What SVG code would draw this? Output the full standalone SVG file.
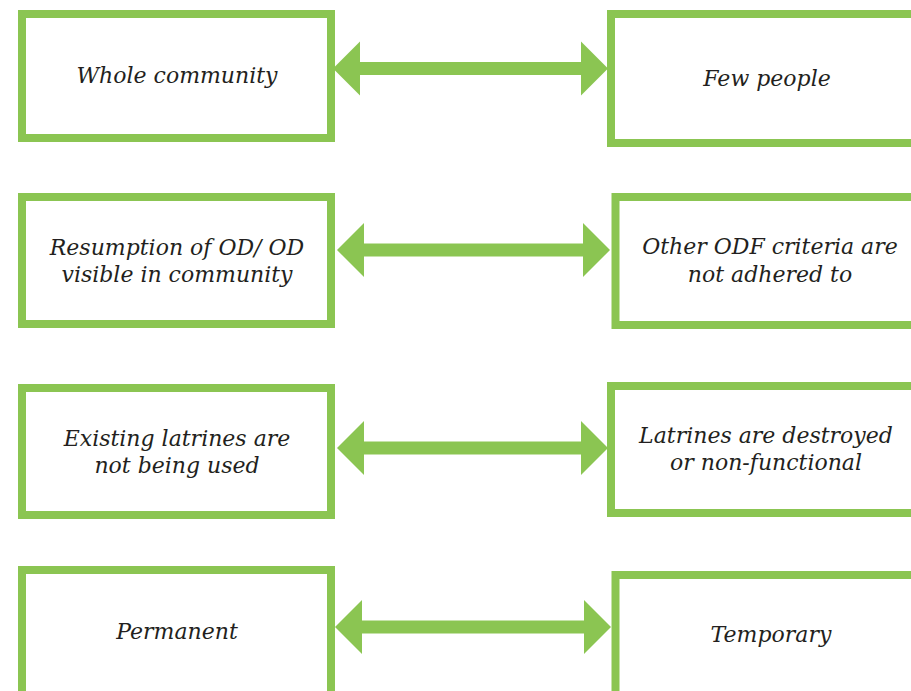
<svg xmlns="http://www.w3.org/2000/svg" width="911" height="691" viewBox="0 0 911 691">
<style>
.box{fill:#fff;stroke:#8bc552;stroke-width:8}
.arr{fill:#8bc552}
text{font-family:"DejaVu Serif","Liberation Serif",serif;font-style:italic;font-size:22px;fill:#231f20;text-anchor:middle}
</style>
<rect width="911" height="691" fill="#fff"/>
<g id="n1"><rect class="box" x="22" y="14" width="309" height="124"/><text x="177" y="83">Whole community</text></g>
<g id="n2"><rect class="box" x="611" y="14" width="320" height="129"/><text x="767" y="86">Few people</text></g>
<g id="n3"><rect class="box" x="22" y="197" width="309" height="127"/><text x="177" y="255">Resumption of OD/ OD</text><text x="177" y="282">visible in community</text></g>
<g id="n4"><rect class="box" x="615.5" y="197" width="320" height="128"/><text x="770" y="254">Other ODF criteria are</text><text x="770" y="282">not adhered to</text></g>
<g id="n5"><rect class="box" x="22" y="388" width="309" height="127"/><text x="177" y="446">Existing latrines are</text><text x="177" y="473">not being used</text></g>
<g id="n6"><rect class="box" x="611" y="386" width="320" height="127"/><text x="766" y="443">Latrines are destroyed</text><text x="766" y="470">or non-functional</text></g>
<g id="n7"><rect class="box" x="22" y="570" width="309" height="140"/><text x="177" y="639">Permanent</text></g>
<g id="n8"><rect class="box" x="615.5" y="575" width="320" height="140"/><text x="771" y="642">Temporary</text></g>
<g id="connectors">
<polygon class="arr" points="333,68.5 360,41.5 360,62 581,62 581,41.5 608,68.5 581,95.5 581,75 360,75 360,95.5"/>
<polygon class="arr" points="337,250 364,223 364,243.5 583,243.5 583,223 610,250 583,277 583,256.5 364,256.5 364,277"/>
<polygon class="arr" points="337,448 364,421 364,441.5 581,441.5 581,421 608,448 581,475 581,454.5 364,454.5 364,475"/>
<polygon class="arr" points="335,627 362,600 362,620.5 584,620.5 584,600 611,627 584,654 584,633.5 362,633.5 362,654"/>
</g>
</svg>
